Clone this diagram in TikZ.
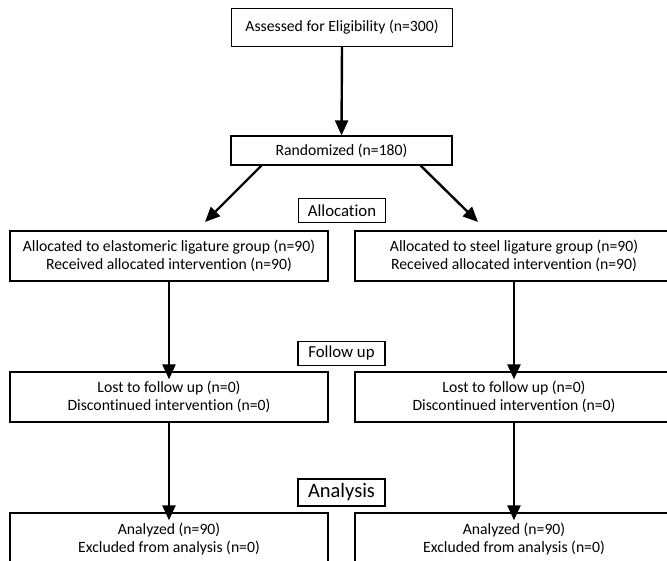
\documentclass[tikz,border=0pt]{standalone}
\usepackage{fontspec}
\setmainfont{Carlito}[Ligatures={NoCommon}]
\usetikzlibrary{arrows.meta}
\begin{document}
\begin{tikzpicture}[x=1pt,y=-1pt,
  box/.style={draw=black,line width=1.3pt,fill=white,align=center,inner sep=0pt,font=\fontsize{15.7}{18}\selectfont},
  lbl/.style={draw=black,line width=1.3pt,fill=white,inner sep=0pt,font=\fontsize{16.8}{19}\selectfont},
  arr/.style={line width=2.4pt,-{Triangle[length=15pt,width=13pt]}}]
\useasboundingbox (0,0) rectangle (667,561);
\fill[white] (0,0) rectangle (667,561);
\node[box,minimum width=221pt,minimum height=38pt] (top) at (342,27.5) {Assessed for Eligibility (n=300)};
\node[box,minimum width=221pt,minimum height=29pt] (rand) at (341.5,150.5) {Randomized (n=180)};
\node[lbl,minimum width=87pt,minimum height=24pt] (alloc) at (342,210.5) {Allocation};
\node[box,minimum width=318pt,minimum height=50pt] (L1) at (169,256) {Allocated to elastomeric ligature group (n=90)\\Received allocated intervention (n=90)};
\node[box,minimum width=318pt,minimum height=50pt] (R1) at (514,256) {Allocated to steel ligature group (n=90)\\Received allocated intervention (n=90)};
\node[lbl,minimum width=87pt,minimum height=24pt] (fu) at (341.5,353.5) {Follow up};
\node[box,minimum width=318pt,minimum height=50pt] (L2) at (169,397) {Lost to follow up (n=0)\\Discontinued intervention (n=0)};
\node[box,minimum width=318pt,minimum height=50pt] (R2) at (514,397) {Lost to follow up (n=0)\\Discontinued intervention (n=0)};
\node[lbl,minimum width=87pt,minimum height=27pt,font=\fontsize{20.5}{23}\selectfont] (an) at (341.5,492.5) {Analysis};
\node[box,minimum width=318pt,minimum height=52pt] (L3) at (169,539) {Analyzed (n=90)\\Excluded from analysis (n=0)};
\node[box,minimum width=318pt,minimum height=52pt] (R3) at (514,539) {Analyzed (n=90)\\Excluded from analysis (n=0)};
\coordinate (la) at (205,222);
\coordinate (ra) at (478,222);
\draw[arr] (top.south) -- (rand.north);
\draw[arr] ([xshift=31pt]rand.south west) -- (la);
\draw[arr] ([xshift=-32pt]rand.south east) -- (ra);
\draw[arr] (L1.south) -- ([yshift=-8pt]L2.north);
\draw[arr] (R1.south) -- ([yshift=-8pt]R2.north);
\draw[arr] (L2.south) -- ([yshift=-8pt]L3.north);
\draw[arr] (R2.south) -- ([yshift=-8pt]R3.north);
\end{tikzpicture}
\end{document}
